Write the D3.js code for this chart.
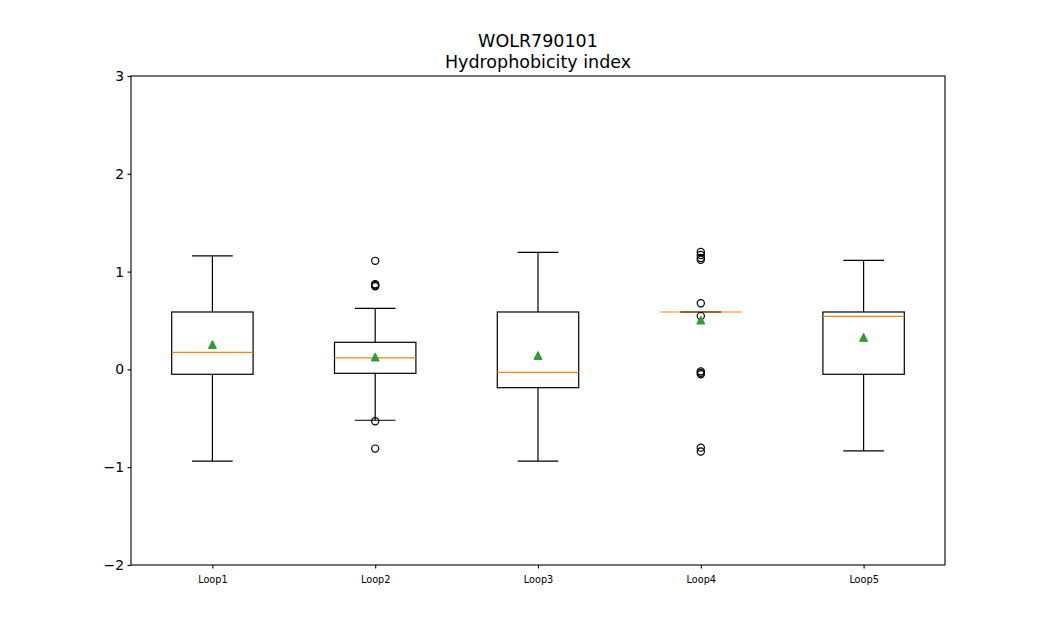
<!DOCTYPE html>
<html>
<head>
<meta charset="utf-8">
<script src="https://cdn.jsdelivr.net/npm/d3@7/dist/d3.min.js"></script>
<style>
  html, body { margin: 0; padding: 0; background: #fff; }
  svg { display: block; font-family: "DejaVu Sans", sans-serif; }
</style>
</head>
<body>
<svg id="chart" width="1050" height="635"></svg>
<script>
// ---- data ----
const titleLines = ["WOLR790101", "Hydrophobicity index"];
const categories = ["Loop1", "Loop2", "Loop3", "Loop4", "Loop5"];
const whiskerLow  = [-0.937, -0.52, -0.937, 0.587, -0.834];
const q1          = [-0.05, -0.04, -0.187, 0.587, -0.05];
const medians     = [0.175, 0.117, -0.03, 0.587, 0.543];
const q3          = [0.587, 0.277, 0.587, 0.587, 0.587];
const whiskerHigh = [1.16, 0.625, 1.197, 0.587, 1.115];
const means       = [0.255, 0.127, 0.142, 0.505, 0.328];
const outliers    = [
  [],
  [1.11, 0.87, 0.86, 0.85, -0.53, -0.81],
  [],
  [1.20, 1.17, 1.14, 1.12, 0.676, 0.545, -0.02, -0.035, -0.05, -0.80, -0.84],
  []
];
const yTicks = [-2, -1, 0, 1, 2, 3];
const yDomain = [-2, 3];

// ---- layout ----
const svg = d3.select("#chart");
const mLeft = 131, mRight = 945, mTop = 76, mBottom = 565;

const x = d3.scaleLinear().domain([0.5, categories.length + 0.5]).range([mLeft, mRight]);
const y = d3.scaleLinear().domain(yDomain).range([mBottom, mTop]);
const boxW = x(1.25) - x(1);   // half width of box
const capW = x(1.125) - x(1);  // half width of cap

const fmt = v => (v < 0 ? "\u2212" + Math.abs(v) : String(v));

// title
svg.append("g").selectAll("text").data(titleLines).join("text")
  .attr("x", (mLeft + mRight) / 2)
  .attr("y", (d, i) => 47 + i * 20.5)
  .attr("text-anchor", "middle")
  .attr("font-size", 17.5)
  .attr("fill", "#000")
  .text(d => d);

// axes
const yAxis = d3.axisLeft(y).tickValues(yTicks).tickFormat(fmt).tickSize(3.5).tickPadding(3.5);
const gy = svg.append("g").attr("transform", `translate(${mLeft},0)`).call(yAxis);
gy.select(".domain").remove();
gy.selectAll("text").attr("font-size", 13.9).attr("font-family", "DejaVu Sans").attr("fill", "#000");
gy.selectAll("line").attr("stroke", "#000").attr("stroke-width", 1.1);

const xAxis = d3.axisBottom(x).tickValues(categories.map((c, i) => i + 1))
  .tickFormat((d, i) => categories[i]).tickSize(3.5).tickPadding(8);
const gx = svg.append("g").attr("transform", `translate(0,${mBottom})`).call(xAxis);
gx.select(".domain").remove();
gx.selectAll("text").attr("font-size", 9.7).attr("font-family", "DejaVu Sans").attr("fill", "#000");
gx.selectAll("line").attr("stroke", "#000").attr("stroke-width", 1.1);

// frame
svg.append("rect")
  .attr("x", mLeft).attr("y", mTop)
  .attr("width", mRight - mLeft).attr("height", mBottom - mTop)
  .attr("fill", "none").attr("stroke", "#000").attr("stroke-width", 1.1);

const idx = categories.map((c, i) => i);
const g = svg.append("g");
const lw = 1.2;

// boxes
g.selectAll("rect.box").data(idx).join("rect")
  .attr("class", "box")
  .attr("x", i => x(i + 1) - boxW)
  .attr("y", i => y(q3[i]))
  .attr("width", 2 * boxW)
  .attr("height", i => Math.max(0, y(q1[i]) - y(q3[i])))
  .attr("fill", "none").attr("stroke", "#000").attr("stroke-width", lw);

// whiskers
g.append("g").selectAll("line").data(idx).join("line")
  .attr("x1", i => x(i + 1)).attr("x2", i => x(i + 1))
  .attr("y1", i => y(q1[i])).attr("y2", i => y(whiskerLow[i]))
  .attr("stroke", "#000").attr("stroke-width", lw);
g.append("g").selectAll("line").data(idx).join("line")
  .attr("x1", i => x(i + 1)).attr("x2", i => x(i + 1))
  .attr("y1", i => y(q3[i])).attr("y2", i => y(whiskerHigh[i]))
  .attr("stroke", "#000").attr("stroke-width", lw);

// caps
[whiskerLow, whiskerHigh].forEach(arr => {
  g.append("g").selectAll("line").data(idx).join("line")
    .attr("x1", i => x(i + 1) - capW).attr("x2", i => x(i + 1) + capW)
    .attr("y1", i => y(arr[i])).attr("y2", i => y(arr[i]))
    .attr("stroke", "#000").attr("stroke-width", lw);
});

// medians
g.append("g").selectAll("line").data(idx).join("line")
  .attr("x1", i => x(i + 1) - boxW).attr("x2", i => x(i + 1) + boxW)
  .attr("y1", i => y(medians[i])).attr("y2", i => y(medians[i]))
  .attr("stroke", "#ff7f0e").attr("stroke-width", lw);

// outliers
const fl = [];
outliers.forEach((arr, i) => arr.forEach(v => fl.push({ i, v })));
g.append("g").selectAll("circle").data(fl).join("circle")
  .attr("cx", d => x(d.i + 1)).attr("cy", d => y(d.v))
  .attr("r", 3.6)
  .attr("fill", "none").attr("stroke", "#000").attr("stroke-width", 1.2);

// means
const tri = 4.0;
g.append("g").selectAll("path").data(idx).join("path")
  .attr("d", i => {
    const cx = x(i + 1), cy = y(means[i]);
    return `M${cx},${cy - tri}L${cx - tri},${cy + tri}L${cx + tri},${cy + tri}Z`;
  })
  .attr("fill", "#2ca02c").attr("stroke", "#2ca02c").attr("stroke-width", 1);
</script>
</body>
</html>
